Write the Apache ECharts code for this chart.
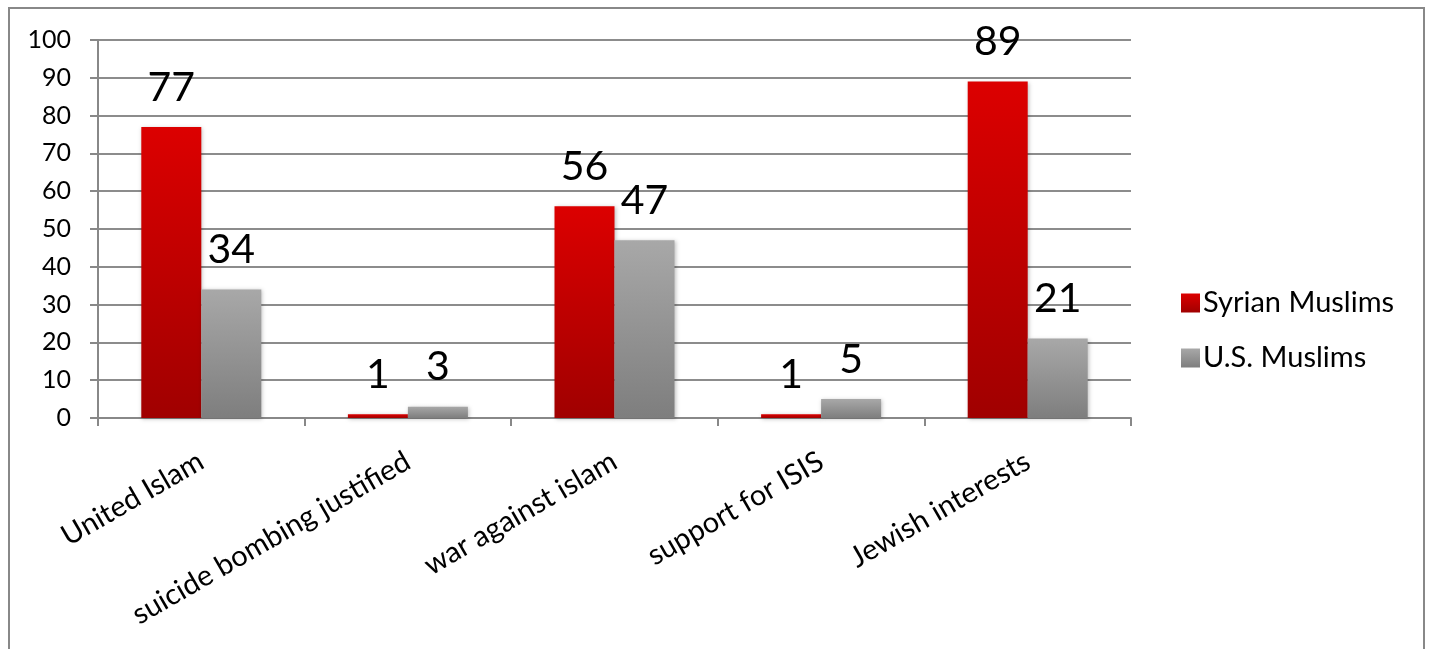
<!DOCTYPE html>
<html>
<head>
<meta charset="utf-8">
<script src="https://cdn.jsdelivr.net/npm/echarts@6/dist/echarts.min.js"></script>
<style>
html,body{margin:0;padding:0;background:#fff;}
#chart{width:1429px;height:649px;}
</style>
</head>
<body>
<div id="chart"></div>
<script>
const categories = ["United Islam", "suicide bombing justified", "war against islam", "support for ISIS", "Jewish interests"];
const syrianMuslims = [77, 1, 56, 1, 89];
const usMuslims = [34, 3, 47, 5, 21];
const seriesNames = ["Syrian Muslims", "U.S. Muslims"];

const FONT = "Lato";
const chart = echarts.init(document.getElementById('chart'), null, {renderer: 'canvas'});

function grad(top, bottom) {
  return new echarts.graphic.LinearGradient(0, 0, 0, 1, [
    {offset: 0, color: top}, {offset: 1, color: bottom}
  ]);
}

const labelStyle = {
  show: true,
  position: 'top',
  distance: 19,
  fontFamily: FONT,
  fontSize: 41,
  color: '#000'
};

chart.setOption({
  animation: false,
  backgroundColor: '#fff',
  textStyle: {fontFamily: FONT},
  graphic: [{
    type: 'rect',
    shape: {x: 9, y: 8, width: 1415, height: 700},
    style: {fill: 'none', stroke: '#888', lineWidth: 2},
    silent: true
  }],
  grid: {left: 98, right: 298, top: 40, bottom: 231, containLabel: false},
  legend: {
    orient: 'vertical',
    left: 1176,
    top: 283,
    itemWidth: 19,
    itemHeight: 19,
    itemGap: 25,
    icon: 'rect',
    textStyle: {fontFamily: FONT, fontSize: 29, lineHeight: 30, color: '#000', padding: [0, 0, 0, -2]},
    data: seriesNames
  },
  xAxis: {
    type: 'category',
    data: categories,
    axisLine: {show: true, lineStyle: {color: '#888', width: 2}},
    axisTick: {show: true, alignWithLabel: false, length: 8, lineStyle: {color: '#888', width: 2}},
    axisLabel: {
      rotate: 30,
      fontFamily: FONT,
      fontSize: 29,
      color: '#000',
      margin: 41,
      interval: 0
    }
  },
  yAxis: {
    type: 'value',
    min: 0,
    max: 100,
    interval: 10,
    axisLine: {show: true, lineStyle: {color: '#888', width: 2}},
    axisTick: {show: true, length: 8, lineStyle: {color: '#888', width: 2}},
    splitLine: {show: true, lineStyle: {color: '#8c8c8c', width: 2}},
    axisLabel: {fontFamily: FONT, fontSize: 25, color: '#000', margin: 27}
  },
  series: [
    {
      name: seriesNames[0],
      type: 'bar',
      data: syrianMuslims,
      barWidth: 60,
      barGap: '0%',
      itemStyle: {
        color: grad('#dc0000', '#a00000'),
        shadowColor: 'rgba(0,0,0,0.25)', shadowBlur: 4, shadowOffsetX: 1, shadowOffsetY: 1
      },
      label: labelStyle
    },
    {
      name: seriesNames[1],
      type: 'bar',
      data: usMuslims,
      barWidth: 60,
      barGap: '0%',
      itemStyle: {
        color: grad('#a8a8a8', '#7e7e7e'),
        shadowColor: 'rgba(0,0,0,0.25)', shadowBlur: 4, shadowOffsetX: 1, shadowOffsetY: 1
      },
      label: labelStyle
    }
  ]
});
</script>
</body>
</html>
